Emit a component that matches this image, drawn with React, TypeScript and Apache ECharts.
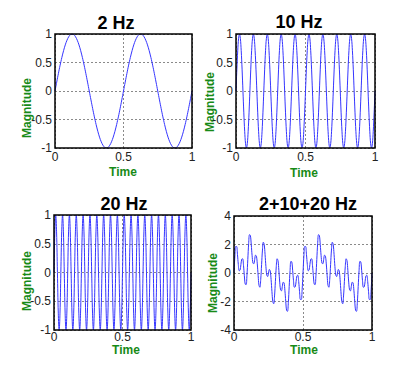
import React, { useEffect, useRef } from "react";
import * as echarts from "echarts";

// Sample rates (samples per second) of each recorded signal, time runs 0..1 s
const RATE_2HZ = 80;
const RATE_10HZ = 160;
const RATE_20HZ = 160;
const RATE_SUM = 160;

const SIGNAL_2HZ = [
  0, 0.156, 0.309, 0.454, 0.588, 0.707, 0.809, 0.891, 0.951, 0.988, 1, 0.988, 0.951, 0.891, 0.809, 0.707, 0.588, 0.454, 0.309, 0.156,
  0, -0.156, -0.309, -0.454, -0.588, -0.707, -0.809, -0.891, -0.951, -0.988, -1, -0.988, -0.951, -0.891, -0.809, -0.707, -0.588, -0.454, -0.309, -0.156,
  0, 0.156, 0.309, 0.454, 0.588, 0.707, 0.809, 0.891, 0.951, 0.988, 1, 0.988, 0.951, 0.891, 0.809, 0.707, 0.588, 0.454, 0.309, 0.156,
  0, -0.156, -0.309, -0.454, -0.588, -0.707, -0.809, -0.891, -0.951, -0.988, -1, -0.988, -0.951, -0.891, -0.809, -0.707, -0.588, -0.454, -0.309, -0.156,
  0,
];

const SIGNAL_10HZ = [
  0, 0.383, 0.707, 0.924, 1, 0.924, 0.707, 0.383, 0, -0.383, -0.707, -0.924, -1, -0.924, -0.707, -0.383,
  0, 0.383, 0.707, 0.924, 1, 0.924, 0.707, 0.383, 0, -0.383, -0.707, -0.924, -1, -0.924, -0.707, -0.383,
  0, 0.383, 0.707, 0.924, 1, 0.924, 0.707, 0.383, 0, -0.383, -0.707, -0.924, -1, -0.924, -0.707, -0.383,
  0, 0.383, 0.707, 0.924, 1, 0.924, 0.707, 0.383, 0, -0.383, -0.707, -0.924, -1, -0.924, -0.707, -0.383,
  0, 0.383, 0.707, 0.924, 1, 0.924, 0.707, 0.383, 0, -0.383, -0.707, -0.924, -1, -0.924, -0.707, -0.383,
  0, 0.383, 0.707, 0.924, 1, 0.924, 0.707, 0.383, 0, -0.383, -0.707, -0.924, -1, -0.924, -0.707, -0.383,
  0, 0.383, 0.707, 0.924, 1, 0.924, 0.707, 0.383, 0, -0.383, -0.707, -0.924, -1, -0.924, -0.707, -0.383,
  0, 0.383, 0.707, 0.924, 1, 0.924, 0.707, 0.383, 0, -0.383, -0.707, -0.924, -1, -0.924, -0.707, -0.383,
  0, 0.383, 0.707, 0.924, 1, 0.924, 0.707, 0.383, 0, -0.383, -0.707, -0.924, -1, -0.924, -0.707, -0.383,
  0, 0.383, 0.707, 0.924, 1, 0.924, 0.707, 0.383, 0, -0.383, -0.707, -0.924, -1, -0.924, -0.707, -0.383,
  0,
];

const SIGNAL_20HZ = [
  0, 0.707, 1, 0.707, 0, -0.707, -1, -0.707, 0, 0.707, 1, 0.707, 0, -0.707, -1, -0.707,
  0, 0.707, 1, 0.707, 0, -0.707, -1, -0.707, 0, 0.707, 1, 0.707, 0, -0.707, -1, -0.707,
  0, 0.707, 1, 0.707, 0, -0.707, -1, -0.707, 0, 0.707, 1, 0.707, 0, -0.707, -1, -0.707,
  0, 0.707, 1, 0.707, 0, -0.707, -1, -0.707, 0, 0.707, 1, 0.707, 0, -0.707, -1, -0.707,
  0, 0.707, 1, 0.707, 0, -0.707, -1, -0.707, 0, 0.707, 1, 0.707, 0, -0.707, -1, -0.707,
  0, 0.707, 1, 0.707, 0, -0.707, -1, -0.707, 0, 0.707, 1, 0.707, 0, -0.707, -1, -0.707,
  0, 0.707, 1, 0.707, 0, -0.707, -1, -0.707, 0, 0.707, 1, 0.707, 0, -0.707, -1, -0.707,
  0, 0.707, 1, 0.707, 0, -0.707, -1, -0.707, 0, 0.707, 1, 0.707, 0, -0.707, -1, -0.707,
  0, 0.707, 1, 0.707, 0, -0.707, -1, -0.707, 0, 0.707, 1, 0.707, 0, -0.707, -1, -0.707,
  0, 0.707, 1, 0.707, 0, -0.707, -1, -0.707, 0, 0.707, 1, 0.707, 0, -0.707, -1, -0.707,
  0,
];

const SIGNAL_SUM = [
  0, 1.17, 1.86, 1.86, 1.31, 0.6, 0.16, 0.2, 0.59, 0.97, 1.0, 0.54, -0.19, -0.78, -0.82, -0.17,
  0.95, 2.06, 2.69, 2.63, 2.0, 1.21, 0.69, 0.65, 0.95, 1.25, 1.18, 0.64, -0.19, -0.87, -1.0, -0.44,
  0.59, 1.61, 2.16, 2.01, 1.31, 0.45, -0.14, -0.25, 0, 0.25, 0.14, -0.45, -1.31, -2.01, -2.16, -1.61,
  -0.59, 0.44, 1.0, 0.87, 0.19, -0.64, -1.18, -1.25, -0.95, -0.65, -0.69, -1.21, -2.0, -2.63, -2.69, -2.06,
  -0.95, 0.17, 0.82, 0.78, 0.19, -0.54, -1.0, -0.97, -0.59, -0.2, -0.16, -0.6, -1.31, -1.86, -1.86, -1.17,
  0, 1.17, 1.86, 1.86, 1.31, 0.6, 0.16, 0.2, 0.59, 0.97, 1.0, 0.54, -0.19, -0.78, -0.82, -0.17,
  0.95, 2.06, 2.69, 2.63, 2.0, 1.21, 0.69, 0.65, 0.95, 1.25, 1.18, 0.64, -0.19, -0.87, -1.0, -0.44,
  0.59, 1.61, 2.16, 2.01, 1.31, 0.45, -0.14, -0.25, 0, 0.25, 0.14, -0.45, -1.31, -2.01, -2.16, -1.61,
  -0.59, 0.44, 1.0, 0.87, 0.19, -0.64, -1.18, -1.25, -0.95, -0.65, -0.69, -1.21, -2.0, -2.63, -2.69, -2.06,
  -0.95, 0.17, 0.82, 0.78, 0.19, -0.54, -1.0, -0.97, -0.59, -0.2, -0.16, -0.6, -1.31, -1.86, -1.86, -1.17,
  0,
];

const PANEL_TITLES = ["2 Hz", "10 Hz", "20 Hz", "2+10+20 Hz"];
const X_LABEL = "Time";
const Y_LABEL = "Magnitude";

const FONT = "'Liberation Sans', Arial, Helvetica, sans-serif";
const LINE_COLOR = "#3535ff";
const LABEL_GREEN = "#178a17";

export default function App() {
  const ref = useRef<HTMLDivElement>(null);

  useEffect(() => {
    if (!ref.current) return;
    const chart = echarts.init(ref.current, undefined, { renderer: "svg" });

    const panels = [
      { data: SIGNAL_2HZ, rate: RATE_2HZ, yMin: -1, yMax: 1, yInt: 0.5 },
      { data: SIGNAL_10HZ, rate: RATE_10HZ, yMin: -1, yMax: 1, yInt: 0.5 },
      { data: SIGNAL_20HZ, rate: RATE_20HZ, yMin: -1, yMax: 1, yInt: 0.5 },
      { data: SIGNAL_SUM, rate: RATE_SUM, yMin: -4, yMax: 4, yInt: 2 },
    ];

    const grids = [
      { left: 55, top: 34, width: 137, height: 114 },
      { left: 236, top: 34, width: 139, height: 114 },
      { left: 54, top: 215, width: 137, height: 115 },
      { left: 234, top: 216, width: 138, height: 114 },
    ];
    const titlePos = [
      [116, 23],
      [299, 22],
      [124, 204],
      [308, 204],
    ];
    const magPos = [
      [27, 108],
      [210, 102],
      [27, 281],
      [213, 283],
    ];
    const timePos = [
      [123, 172],
      [304, 173],
      [126, 350],
      [304, 350],
    ];
    const xLabelMargin = [3, 3, 1, 1];

    const splitLine = {
      show: true,
      lineStyle: { color: "#8a8a8a", type: [2, 2] as any, width: 1 },
    };

    const option: any = {
      animation: false,
      backgroundColor: "#ffffff",
      grid: grids.map((g) => ({
        ...g,
        show: true,
        borderColor: "#000",
        borderWidth: 1.5,
        backgroundColor: "transparent",
        z: 3,
      })),
      xAxis: panels.map((_, i) => ({
        type: "value",
        gridIndex: i,
        min: 0,
        max: 1,
        interval: 0.5,
        axisLine: { show: false },
        axisTick: { show: false },
        splitLine,
        axisLabel: {
          color: "#222",
          fontSize: 12,
          lineHeight: 12,
          fontFamily: FONT,
          margin: xLabelMargin[i],
        },
      })),
      yAxis: panels.map((p, i) => ({
        type: "value",
        gridIndex: i,
        min: p.yMin,
        max: p.yMax,
        interval: p.yInt,
        axisLine: { show: false },
        axisTick: { show: false },
        splitLine,
        axisLabel: {
          color: "#222",
          fontSize: 12,
          lineHeight: 12,
          fontFamily: FONT,
          margin: 3,
        },
      })),
      series: panels.map((p, i) => ({
        type: "line",
        xAxisIndex: i,
        yAxisIndex: i,
        data: p.data.map((v, k) => [k / p.rate, v]),
        showSymbol: false,
        smooth: 0.4,
        lineStyle: { color: LINE_COLOR, width: 1 },
        z: 2,
      })),
      graphic: [
        ...PANEL_TITLES.map((t, i) => ({
          type: "text",
          x: titlePos[i][0],
          y: titlePos[i][1],
          style: {
            text: t,
            fontSize: 18,
            fontWeight: "bold",
            fontFamily: FONT,
            fill: "#000",
            align: "center",
            verticalAlign: "middle",
          },
        })),
        ...magPos.map((p) => ({
          type: "text",
          x: p[0],
          y: p[1],
          rotation: Math.PI / 2,
          style: {
            text: Y_LABEL,
            fontSize: 12,
            lineHeight: 12,
            fontWeight: "bold",
            fontFamily: FONT,
            fill: LABEL_GREEN,
            align: "center",
            verticalAlign: "middle",
          },
        })),
        ...timePos.map((p) => ({
          type: "text",
          x: p[0],
          y: p[1],
          style: {
            text: X_LABEL,
            fontSize: 12,
            lineHeight: 12,
            fontWeight: "bold",
            fontFamily: FONT,
            fill: LABEL_GREEN,
            align: "center",
            verticalAlign: "middle",
          },
        })),
      ],
    };

    chart.setOption(option);
    return () => chart.dispose();
  }, []);

  return (
    <div
      ref={ref}
      style={{ position: "absolute", left: 0, top: 0, width: 395, height: 374 }}
    />
  );
}
